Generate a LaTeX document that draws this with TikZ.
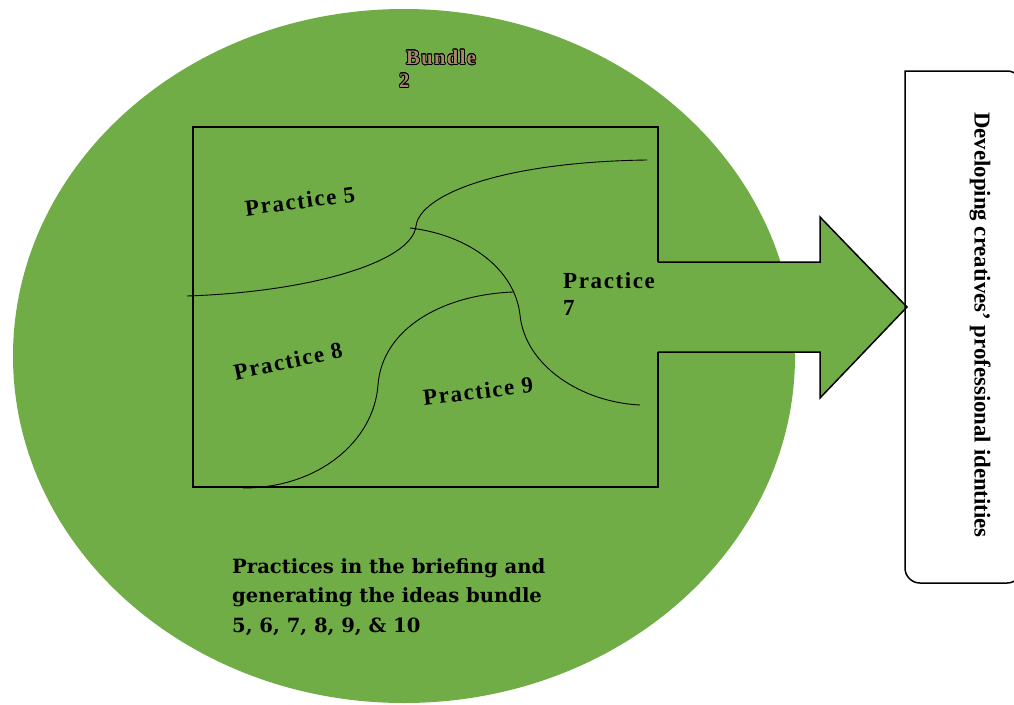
\documentclass[tikz,border=0pt]{standalone}
\usepackage{fontspec}
\setmainfont{Liberation Serif}
\newfontfamily\labelfont[LetterSpace=7]{Liberation Serif}
\newfontfamily\captionfont{DejaVu Serif}
\usepackage{contour}
\contourlength{0.7pt}
\definecolor{leaf}{RGB}{112,173,71}
\definecolor{tanfill}{RGB}{168,134,110}

\begin{document}
\begin{tikzpicture}[x=1pt,y=-1pt,
  practice/.style={font=\labelfont\bfseries\fontsize{23}{27}\selectfont, inner sep=0pt},
  divider/.style={line width=0.9pt},
  frame/.style={line width=1.5pt}]
\useasboundingbox (0,0) rectangle (1014,704);

% the bundle as a green oval
\fill[leaf] (404,356) ellipse [x radius=391pt, y radius=347pt];

% practices frame, open where the arrow leaves it
\draw[frame] (658,262) -- (658,127) -- (193,127) -- (193,487) -- (658,487) -- (658,352);

% block arrow towards the outcome box
\draw[frame, fill=leaf, line join=miter]
  (658,262) -- (820,262) -- (820,217) -- (907,307) -- (820,398) -- (820,352) -- (658,352);

% dividing lines between the practices
\draw[divider] (187,296) .. controls (310,292) and (412,262) .. (416,226)
                         .. controls (420,195) and (500,162) .. (647,160);
\draw[divider] (410,228) .. controls (470,235) and (515,270) .. (520,315)
                         .. controls (525,365) and (580,402) .. (640,405);
\draw[divider] (513,292) .. controls (440,295) and (382,330) .. (378,385)
                         .. controls (374,440) and (320,488) .. (243,488);

% practice labels
\node[practice, rotate=7.5] (p5) at (300,201) {Practice 5};
\node[practice, rotate=12]  (p8) at (288,361) {Practice 8};
\node[practice, rotate=6.7] (p9) at (478,391) {Practice 9};
\node[practice, anchor=north west, align=left] (p7) at (563,272) {Practice\\7};

% bundle title
\node[anchor=north west, align=left, inner sep=0pt,
      font=\labelfont\bfseries\fontsize{20.5}{23}\selectfont] (bundle) at (399,50)
  {\hspace*{7pt}\contour{black}{\textcolor{tanfill}{Bundle}}\\\contour{black}{\textcolor{tanfill}{2}}};

% bundle caption
\node[anchor=base west, align=left, inner sep=0pt,
      font=\captionfont\bfseries\fontsize{19.6}{29.5}\selectfont] (caption) at (232,632)
  {Practices in the briefing and\\generating the ideas bundle\\5, 6, 7, 8, 9, \& 10};

% outcome box
\draw[frame] (905,300) -- (905,71) -- (1007,71)
  arc[start angle=90, end angle=0, radius=15pt] -- (1022,568)
  arc[start angle=0, end angle=-90, radius=15pt] -- (920,583)
  arc[start angle=270, end angle=180, radius=15pt] -- cycle;
\node[rotate=-90, inner sep=0pt, font=\bfseries\fontsize{22.8}{27}\selectfont] (goal) at (980,325)
  {Developing creatives’ professional identities};
\end{tikzpicture}
\end{document}
